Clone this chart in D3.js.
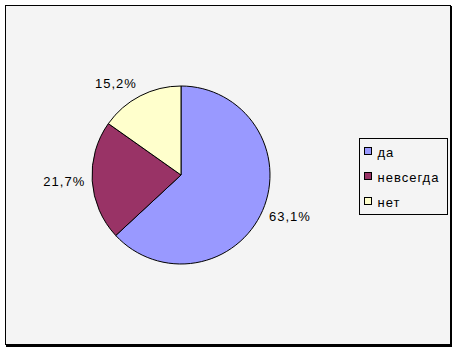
<!DOCTYPE html>
<html>
<head>
<meta charset="utf-8">
<script src="https://cdn.jsdelivr.net/npm/d3@7"></script>
<style>
  body { margin: 0; background: #fff; }
  text { font-family: Arial, "Liberation Sans", sans-serif; font-size: 13px; letter-spacing: 1px; fill: #000; }
</style>
</head>
<body>
<div id="chart"></div>
<script>
// pie data
const categories = ['да', 'невсегда', 'нет'];
const values = [63.1, 21.7, 15.2];
const labels = ['63,1%', '21,7%', '15,2%'];
const colors = ['#9999ff', '#993366', '#ffffcc'];

const width = 458, height = 352;
const cx = 181, cy = 175, radius = 89;

const svg = d3.select('#chart').append('svg')
    .attr('width', width)
    .attr('height', height);

// chart frame with shadow edge
svg.append('rect')
    .attr('x', 6).attr('y', 6)
    .attr('width', 446).attr('height', 341)
    .attr('fill', '#000');
svg.append('rect')
    .attr('x', 5.5).attr('y', 5.5)
    .attr('width', 445).attr('height', 339)
    .attr('fill', '#f4f4f4')
    .attr('stroke', '#000')
    .attr('stroke-width', 1);

const pie = d3.pie().sort(null).value(d => d);
const arc = d3.arc().innerRadius(0).outerRadius(radius);
const arcs = pie(values);

const g = svg.append('g').attr('transform', `translate(${cx},${cy})`);

g.selectAll('path')
    .data(arcs)
    .enter()
    .append('path')
    .attr('d', arc)
    .attr('fill', (d, i) => colors[i])
    .attr('stroke', '#000')
    .attr('stroke-width', 1);

// labels: box touches a circle just outside the pie
const labelR = radius + 7;
g.selectAll('text.lbl')
    .data(arcs)
    .enter()
    .append('text')
    .attr('class', 'lbl')
    .attr('text-anchor', 'middle')
    .attr('dy', '0.35em')
    .text((d, i) => labels[i])
    .each(function(d) {
        const a = (d.startAngle + d.endAngle) / 2;
        const dx = Math.sin(a), dy = -Math.cos(a);
        const bb = this.getBBox();
        const x = labelR * dx + Math.sign(dx) * bb.width / 2;
        const y = labelR * dy + dy * bb.height / 2;
        d3.select(this).attr('x', x).attr('y', y);
    });

// legend
const legend = svg.append('g').attr('transform', 'translate(359.5,138.5)');
legend.append('rect')
    .attr('width', 88).attr('height', 76)
    .attr('fill', '#f4f4f4')
    .attr('stroke', '#000');

const item = legend.selectAll('g.item')
    .data(categories)
    .enter()
    .append('g')
    .attr('class', 'item')
    .attr('transform', (d, i) => `translate(5,${9 + i * 25})`);

item.append('rect')
    .attr('width', 7).attr('height', 7)
    .attr('fill', (d, i) => colors[i])
    .attr('stroke', '#000');

item.append('text')
    .attr('x', 13)
    .attr('y', 9)
    .text(d => d);
</script>
</body>
</html>
